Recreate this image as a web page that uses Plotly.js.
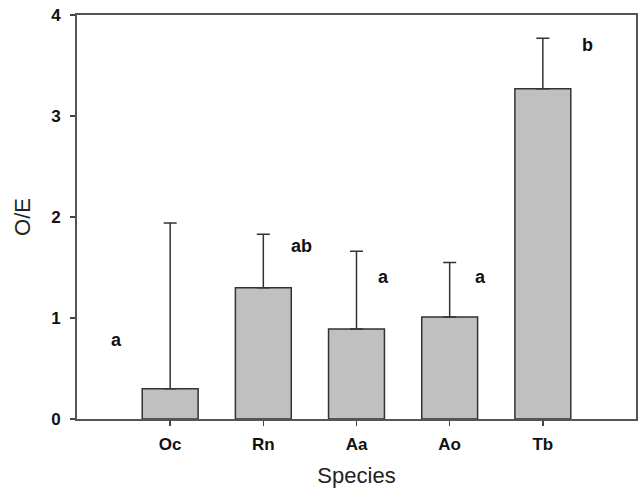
<!DOCTYPE html>
<html>
<head>
<meta charset="utf-8">
<script src="https://cdn.plot.ly/plotly-3.0.1.min.js"></script>
<style>html,body{margin:0;padding:0;background:#fff;}#chart{width:638px;height:488px;}</style>
</head>
<body>
<div id="chart"></div>
<script>
// Data
const species = ["Oc", "Rn", "Aa", "Ao", "Tb"];
const positions = [1, 2, 3, 4, 5];
const oe = [0.30, 1.30, 0.89, 1.01, 3.27];
const upperError = [1.94, 1.83, 1.66, 1.55, 3.77];
const letters = ["a", "ab", "a", "a", "b"];
const letterX = [0.42, 2.41, 3.29, 4.33, 5.48];
const letterY = [0.78, 1.71, 1.41, 1.41, 3.70];
const yTicks = [0, 1, 2, 3, 4];

const FONT = "Liberation Sans, Arial, sans-serif";

const trace = {
  type: "bar",
  x: positions,
  y: oe,
  width: 0.6,
  marker: {color: "#c0c0c0", line: {color: "#333333", width: 1.5}},
  error_y: {
    type: "data",
    symmetric: false,
    array: upperError.map((u, i) => u - oe[i]),
    arrayminus: oe.map(() => 0),
    color: "#333333",
    thickness: 1.5,
    width: 6.5
  },
  hoverinfo: "none"
};

const annotations = letters.map((t, i) => ({
  x: letterX[i], y: letterY[i], xref: "x", yref: "y",
  text: "<b>" + t + "</b>", showarrow: false,
  font: {family: FONT, size: 18, color: "#111"}
}));

const layout = {
  width: 638, height: 488,
  margin: {l: 77, r: 2, t: 15, b: 69},
  paper_bgcolor: "#fff", plot_bgcolor: "#fff",
  showlegend: false,
  xaxis: {
    range: [0, 6],
    tickvals: positions, ticktext: species.map(s => "<b>" + s + "</b>"),
    ticks: "outside", ticklen: 5, tickwidth: 1.5, tickcolor: "#444",
    showline: true, linecolor: "#555", linewidth: 2, mirror: true,
    showgrid: false, zeroline: false,
    tickfont: {family: FONT, size: 17, color: "#111"},
    ticklabelstandoff: 4,
    title: {text: "Species", font: {family: FONT, size: 22, color: "#222"}, standoff: 14}
  },
  yaxis: {
    range: [0, 4],
    tickvals: yTicks, ticktext: yTicks.map(v => "<b>" + v + "</b>"),
    ticks: "outside", ticklen: 5, tickwidth: 1.5, tickcolor: "#444",
    showline: true, linecolor: "#555", linewidth: 2, mirror: true,
    showgrid: false, zeroline: false,
    tickfont: {family: FONT, size: 17, color: "#111"},
    ticklabelstandoff: 6,
    title: {text: "O/E", font: {family: FONT, size: 22, color: "#222"}, standoff: 14}
  },
  annotations: annotations
};

Plotly.newPlot("chart", [trace], layout, {staticPlot: true, displayModeBar: false});
</script>
</body>
</html>
